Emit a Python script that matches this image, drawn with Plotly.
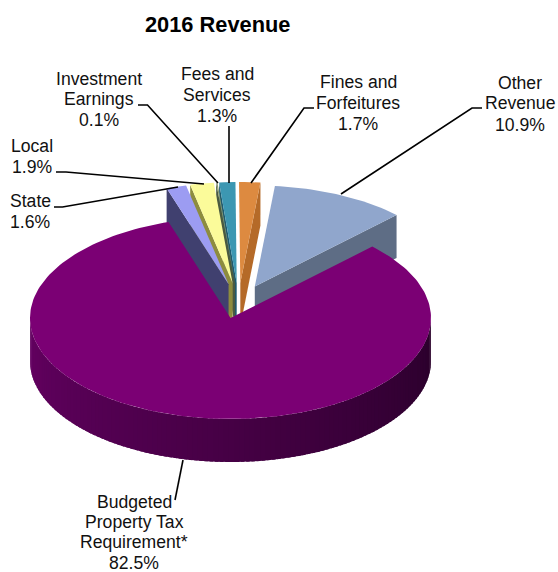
import math
import plotly.graph_objects as go

# ---- data ----
categories = ["Budgeted Property Tax Requirement*", "State", "Local", "Investment Earnings",
              "Fees and Services", "Fines and Forfeitures", "Other Revenue"]
shares = [82.5, 1.6, 1.9, 0.1, 1.3, 1.7, 10.9]
face_colors = ["#7b0074", "#9c9cf2", "#fbfb9a", "#8a9a70", "#3c97b2", "#dd8a40", "#90a6cc"]
wall_colors = ["#4a0046", "#40406f", "#8d8c3e", "#4a5a40", "#1f5a6e", "#b56a28", "#5e6d85"]
title_text = "2016 Revenue"
label_lines = [
    (["Budgeted", "Property Tax", "Requirement*", "82.5%"], 134, [502, 522, 542, 563]),
    (["State", "1.6%"], 30, [201, 222]),
    (["Local", "1.9%"], 32, [146, 167]),
    (["Investment", "Earnings", "0.1%"], 99, [79, 99, 120]),
    (["Fees and", "Services", "1.3%"], 217, [74, 95, 116]),
    (["Fines and", "Forfeitures", "1.7%"], 358, [82, 103, 124]),
    (["Other", "Revenue", "10.9%"], 520, [83, 103, 125]),
]
leaders = [
    [(175, 500), (183, 460)],
    [(54, 207), (62.5, 207), (178, 187)],
    [(56, 172), (66, 172), (204, 184)],
    [(138, 105), (147.5, 105), (218, 183)],
    [(229, 126), (229, 183)],
    [(314, 108), (304, 108), (251, 183)],
    [(482, 108), (472, 108), (341, 194)],
]

# ---- projection of the tilted disc ----
CX, CY, RX, RY, DEPTH = 230.5, 318.0, 200.5, 101.0, 43.0
START = 45.0
PULL_SHIFT, PULL_X, PULL_Y = 8.0, 38.0, 35.0


def rim(cx, cy, deg):
    a = math.radians(deg)
    return cx + RX * math.sin(a), cy - RY * math.cos(a)


def arc(cx, cy, a0, a1, step=1.5):
    n = max(2, int(abs(a1 - a0) / step) + 1)
    return [rim(cx, cy, a0 + (a1 - a0) * i / (n - 1)) for i in range(n)]


def mix(c0, c1, t):
    p = [int(c0[i:i + 2], 16) for i in (1, 3, 5)]
    q = [int(c1[i:i + 2], 16) for i in (1, 3, 5)]
    return "#%02x%02x%02x" % tuple(round(a + (b - a) * t) for a, b in zip(p, q))


fig = go.Figure()


def poly(points, color):
    xs = [p[0] for p in points] + [points[0][0]]
    ys = [p[1] for p in points] + [points[0][1]]
    fig.add_trace(go.Scatter(x=xs, y=ys, mode="lines", fill="toself", fillcolor=color,
                             line=dict(color=color, width=0), hoverinfo="skip",
                             showlegend=False))


spans = []
angle = START
for value in shares:
    spans.append((angle, angle + value * 3.6))
    angle += value * 3.6

# exploded slices: right to left so each left neighbour hides the wall behind it;
# the main slice is drawn last so it occludes them all
for i in [6, 5, 4, 3, 2, 1]:
    a0, a1 = spans[i]
    mid = math.radians((a0 + a1) / 2)
    ax = CX + PULL_SHIFT + PULL_X * math.sin(mid)
    ay = CY - PULL_Y * math.cos(mid)
    top = arc(ax, ay, a0, a1)
    cut = a1 if math.sin(mid) > 0 else a0
    ox, oy = rim(ax, ay, cut)
    poly([(ax, ay), (ox, oy), (ox, oy + DEPTH), (ax, ay + DEPTH)], wall_colors[i])
    poly([(ax, ay)] + top, face_colors[i])

# main slice: shaded outer wall, then the top face
a0, a1 = spans[0]
SEG = 1.5
deg = 90.0
while deg < 270.0:
    t = (deg - 90.0) / 180.0
    color = mix("#2a002b", "#650062", t ** 1.1)
    seg = arc(CX, CY, max(deg - 1.0, 90.0), deg + SEG, 0.75)
    poly(seg + [(x, y + DEPTH) for x, y in reversed(seg)], color)
    deg += SEG
poly([(CX, CY)] + arc(CX, CY, a0, a1), face_colors[0])

shapes = []
for path in leaders:
    d = "M " + " L ".join(f"{x} {y}" for x, y in path)
    shapes.append(dict(type="path", path=d, line=dict(color="#000000", width=1.6), layer="above"))

annotations = [dict(x=217, y=24, text=f"<b>{title_text}</b>", showarrow=False,
                    font=dict(family="Liberation Sans", size=21.8, color="#000000"),
                    xanchor="center", yanchor="middle")]
for lines, x, ys in label_lines:
    for line, y in zip(lines, ys):
        annotations.append(dict(x=x, y=y, text=line, showarrow=False,
                                font=dict(family="Liberation Sans", size=17.6, color="#111111"),
                                xanchor="center", yanchor="middle"))

fig.update_layout(
    width=558, height=572, margin=dict(l=0, r=0, t=0, b=0),
    paper_bgcolor="white", plot_bgcolor="white", showlegend=False,
    xaxis=dict(range=[0, 558], visible=False, fixedrange=True),
    yaxis=dict(range=[572, 0], visible=False, fixedrange=True),
    shapes=shapes, annotations=annotations,
)
fig.write_html("out.html", config={"displayModeBar": False},
               post_script="document.body.style.margin='0';document.body.style.overflow='hidden';")
